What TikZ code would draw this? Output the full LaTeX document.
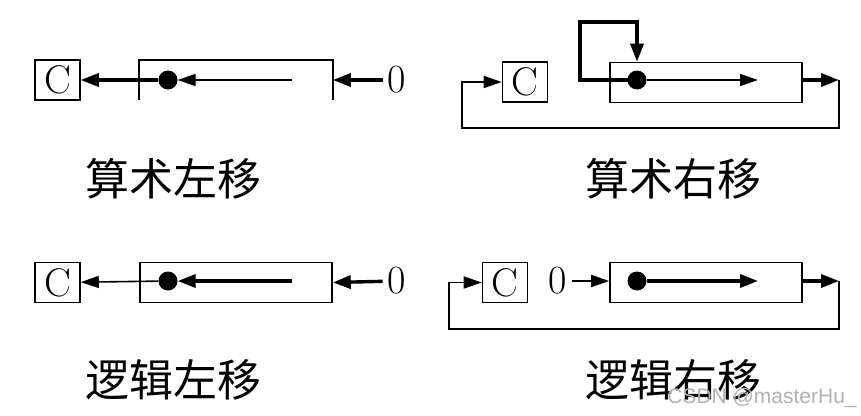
\documentclass[tikz,border=0pt]{standalone}
\usepackage{fontspec}
\newfontfamily\cjk{Noto Sans CJK SC}
\usetikzlibrary{arrows.meta}
\tikzset{
  reg/.style = {draw, line width = 1.6pt, minimum width = 192pt, minimum height = 40pt, inner sep = 0pt},
  cbox/.style = {draw, line width = 1.6pt, minimum width = 45pt, minimum height = 40pt, inner sep = 0pt,
    font = \fontsize{40}{40}\selectfont},
  bit/.style = {circle, fill, inner sep = 0pt, minimum size = 19pt},
  zero/.style = {inner sep = 5pt, font = \fontsize{40}{40}\selectfont},
  title/.style = {font = \cjk\fontsize{44}{44}\selectfont},
  thinarrow/.style = {line width = 1.6pt, -{Triangle[length = 18pt, width = 12pt]}},
  thickarrow/.style = {line width = 3.4pt, -{Triangle[length = 18pt, width = 13pt]}},
  loopline/.style = {line width = 2.4pt}
}
\begin{document}
\begin{tikzpicture}[x = 1pt, y = -1pt]
      \useasboundingbox (0, 0) rectangle (861, 415);

      \node[cbox] (c1) at (57.5, 80) {C};
      \node[reg, draw = none, minimum height = 38pt] (r1) at (236, 80) {};
      \draw[line width = 1.6pt] (r1.south west) |- (r1.north east) -- (r1.south east);
      \node[bit] (d1) at (168, 80) {};
      \coordinate (s1) at (292, 80);
      \node[zero] (z1) at (397, 80) {0};
      \draw[thinarrow] (s1) -- (d1);
      \draw[thickarrow] (d1) -- (c1);
      \draw[thickarrow] (z1) -- (r1.east);
      \node[title] (t1) at (173, 179) {算术左移};

      \node[cbox] (c2) at (525, 82) {C};
      \node[reg] (r2) at (706, 82.5) {};
      \node[bit] (d2) at (637, 80) {};
      \coordinate (e2) at (758, 80);
      \coordinate (l2) at (580, 22);
      \coordinate (o2) at (839, 80);
      \coordinate (b2) at (462, 128);
      \draw[thinarrow] (d2) -- (e2);
      \draw[thickarrow] (d2.center) -| (l2) -| (d2 |- r2.north);
      \draw[thickarrow] (r2.east |- d2) -- (o2);
      \draw[loopline, thinarrow] (o2) |- (b2) |- (c2.west);
      \node[title] (t2) at (673, 179) {算术右移};

      \node[cbox] (c3) at (57.5, 282.5) {C};
      \node[reg] (r3) at (236, 282.5) {};
      \node[bit] (d3) at (168, 281) {};
      \coordinate (s3) at (292, 281);
      \node[zero] (z3) at (397, 281) {0};
      \draw[thickarrow] (s3) -- (d3);
      \draw[thinarrow] (d3) -- (c3);
      \draw[thickarrow] (z3) -- (r3.east);
      \node[title] (t3) at (173, 380) {逻辑左移};

      \node[cbox] (c4) at (505, 282.5) {C};
      \node[zero] (z4) at (558, 281) {0};
      \node[reg] (r4) at (706, 282.5) {};
      \node[bit] (d4) at (637, 281) {};
      \coordinate (e4) at (758, 281);
      \coordinate (o4) at (839, 281);
      \coordinate (b4) at (449, 329);
      \draw[thinarrow] (z4) -- (r4.west |- z4);
      \draw[thickarrow] (d4) -- (e4);
      \draw[thickarrow] (r4.east |- d4) -- (o4);
      \draw[loopline, thinarrow] (o4) |- (b4) |- (c4.west);
      \node[title] (t4) at (673, 380) {逻辑右移};

      \node[text = black!30, font = \fontspec{Liberation Sans}\fontsize{21}{21}\selectfont] (wm) at (762, 398) {CSDN @masterHu\_};

    \end{tikzpicture}
\end{document}
